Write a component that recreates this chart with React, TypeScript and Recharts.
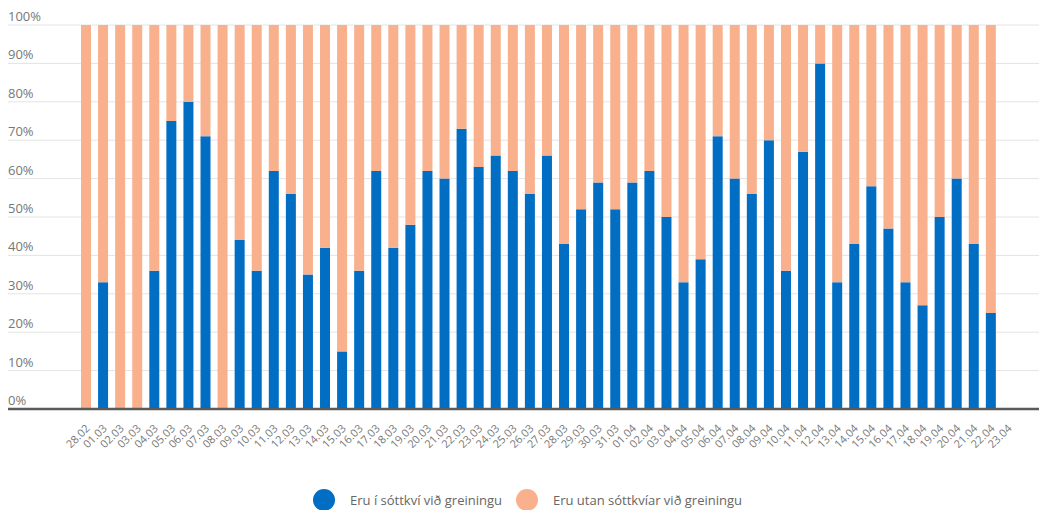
import { BarChart, Bar, XAxis, YAxis, CartesianGrid, Legend } from 'recharts';

const dates = [
  '28.02', '01.03', '02.03', '03.03', '04.03', '05.03', '06.03', '07.03', '08.03', '09.03',
  '10.03', '11.03', '12.03', '13.03', '14.03', '15.03', '16.03', '17.03', '18.03', '19.03',
  '20.03', '21.03', '22.03', '23.03', '24.03', '25.03', '26.03', '27.03', '28.03', '29.03',
  '30.03', '31.03', '01.04', '02.04', '03.04', '04.04', '05.04', '06.04', '07.04', '08.04',
  '09.04', '10.04', '11.04', '12.04', '13.04', '14.04', '15.04', '16.04', '17.04', '18.04',
  '19.04', '20.04', '21.04', '22.04', '23.04',
];

// % greindra sem voru í sóttkví
const inQuarantine = [
  0, 33, 0, 0, 36, 75, 80, 71, 0, 44,
  36, 62, 56, 35, 42, 15, 36, 62, 42, 48,
  62, 60, 73, 63, 66, 62, 56, 66, 43, 52,
  59, 52, 59, 62, 50, 33, 39, 71, 60, 56,
  70, 36, 67, 90, 33, 43, 58, 47, 33, 27,
  50, 60, 43, 25, null,
];

// % greindra utan sóttkvíar
const outsideQuarantine = [
  100, 67, 100, 100, 64, 25, 20, 29, 100, 56,
  64, 38, 44, 65, 58, 85, 64, 38, 58, 52,
  38, 40, 27, 37, 34, 38, 44, 34, 57, 48,
  41, 48, 41, 38, 50, 67, 61, 29, 40, 44,
  30, 64, 33, 10, 67, 57, 42, 53, 67, 73,
  50, 40, 57, 75, null,
];

const yTicks = [0, 10, 20, 30, 40, 50, 60, 70, 80, 90, 100];

const BLUE = '#016ec3';
const ORANGE = '#f8b08d';
const FONT = '"Open Sans", sans-serif';
const PLOT_LEFT = 8;

const chartData = dates.map((d, i) => ({
  date: d,
  inni: inQuarantine[i],
  utan: outsideQuarantine[i],
}));

function DateTick({ x, y, payload }: any) {
  return (
    <g transform={`translate(${x + 5},${y + 12})`}>
      <text textAnchor="end" transform="rotate(-45)" fill="#777" fontSize={11} fontFamily={FONT}>
        {payload.value}
      </text>
    </g>
  );
}

function PercentTick({ y, payload }: any) {
  return (
    <text x={PLOT_LEFT} y={y - 4} textAnchor="start" fill="#777" fontSize={13} fontFamily={FONT}>
      {`${payload.value}%`}
    </text>
  );
}

function LegendContent() {
  const items = [
    { label: 'Eru í sóttkví við greiningu', color: BLUE },
    { label: 'Eru utan sóttkvíar við greiningu', color: ORANGE },
  ];
  return (
    <div style={{ display: 'flex', alignItems: 'center', paddingLeft: 313, fontFamily: FONT, fontSize: 13, color: '#666' }}>
      {items.map(it => (
        <div key={it.label} style={{ display: 'flex', alignItems: 'center', marginRight: 14 }}>
          <span style={{ width: 22, height: 22, borderRadius: '50%', background: it.color, display: 'inline-block', marginRight: 15 }} />
          <span>{it.label}</span>
        </div>
      ))}
    </div>
  );
}

export default function App() {
  return (
    <div style={{ position: 'absolute', left: 0, top: 0 }}>
      <BarChart width={1039} height={510} data={chartData} margin={{ top: 25, right: 0, left: 0, bottom: 0 }}>
        <CartesianGrid vertical={false} stroke="#e4e4e4" />
        <XAxis
          dataKey="date"
          interval={0}
          height={101}
          tickLine={false}
          axisLine={{ stroke: '#5a5a5a', strokeWidth: 2.5 }}
          tick={<DateTick />}
          padding={{ left: 69, right: 23 }}
        />
        <YAxis
          width={PLOT_LEFT}
          domain={[0, 100]}
          ticks={yTicks}
          interval={0}
          axisLine={false}
          tickLine={false}
          tick={<PercentTick />}
        />
        <Legend
          layout="horizontal"
          verticalAlign="middle"
          align="center"
          content={<LegendContent />}
          wrapperStyle={{ top: 489, left: 0, width: 1039 }}
        />
        <Bar dataKey="inni" stackId="s" fill={BLUE} barSize={10} isAnimationActive={false} />
        <Bar dataKey="utan" stackId="s" fill={ORANGE} barSize={10} isAnimationActive={false} />
      </BarChart>
    </div>
  );
}
